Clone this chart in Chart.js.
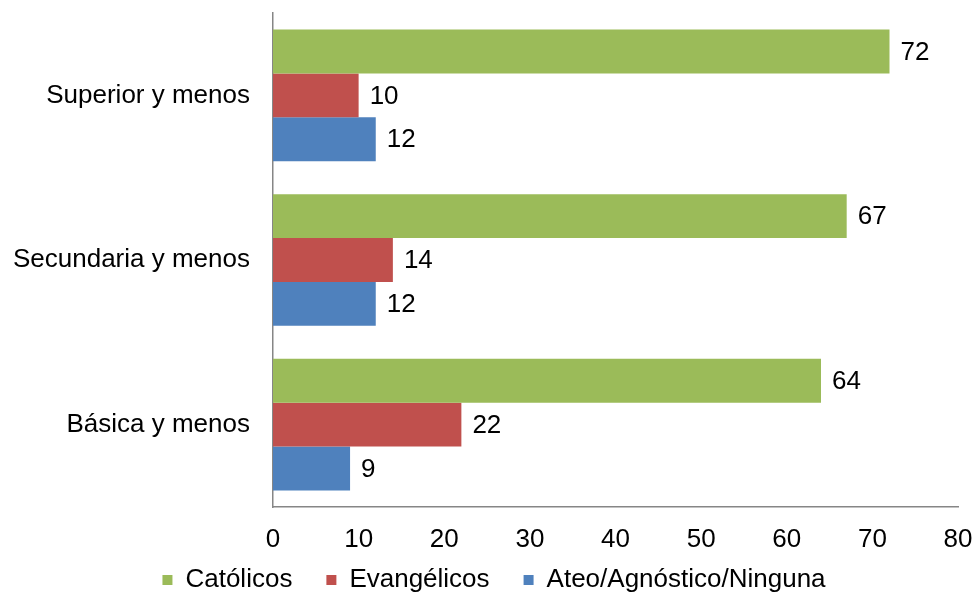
<!DOCTYPE html>
<html>
<head>
<meta charset="utf-8">
<script src="https://cdn.jsdelivr.net/npm/chart.js@4.4.1/dist/chart.umd.min.js"></script>
<style>
  body { margin: 0; background: #fff; }
  canvas { display: block; }
</style>
</head>
<body>
<canvas id="chart" width="976" height="595"></canvas>
<script>
var categories = ['Superior y menos', 'Secundaria y menos', 'Básica y menos'];
var seriesNames = ['Católicos', 'Evangélicos', 'Ateo/Agnóstico/Ninguna'];
var catolicos = [72, 67, 64];
var evangelicos = [10, 14, 22];
var ateos = [12, 12, 9];
var xTicks = [0, 10, 20, 30, 40, 50, 60, 70, 80];

var colors = ['#9BBB59', '#C0504D', '#4F81BD'];
var fontFamily = '"Liberation Sans", Arial, sans-serif';

// value labels at the end of each bar
var valueLabels = {
  id: 'valueLabels',
  afterLayout: function (chart) {
    // let the x tick labels draw below the squeezed axis box
    chart.scales.x.bottom = chart.scales.x.top + 60;
    // nudge the legend a little to the right
    chart.legend.left += 15;
    chart.legend.right += 15;
  },
  afterDatasetsDraw: function (chart) {
    var ctx = chart.ctx;
    ctx.save();
    ctx.font = '26px ' + fontFamily;
    ctx.fillStyle = '#000';
    ctx.textBaseline = 'middle';
    ctx.textAlign = 'left';
    chart.data.datasets.forEach(function (ds, i) {
      chart.getDatasetMeta(i).data.forEach(function (bar, j) {
        ctx.fillText(ds.data[j], bar.x + 11, bar.y + 1);
      });
    });
    ctx.restore();
  }
};

var chart = new Chart(document.getElementById('chart').getContext('2d'), {
  type: 'bar',
  data: {
    labels: categories,
    datasets: [
      { label: seriesNames[0], data: catolicos, backgroundColor: colors[0] },
      { label: seriesNames[1], data: evangelicos, backgroundColor: colors[1] },
      { label: seriesNames[2], data: ateos, backgroundColor: colors[2] }
    ]
  },
  options: {
    indexAxis: 'y',
    responsive: false,
    animation: false,
    layout: { padding: { top: 13, right: 18, left: 0, bottom: -8 } },
    datasets: { bar: { categoryPercentage: 0.8, barPercentage: 1.0 } },
    scales: {
      x: {
        min: 0,
        max: 80,
        afterBuildTicks: function (axis) {
          axis.ticks = xTicks.map(function (v) { return { value: v }; });
        },
        grid: { display: false, drawTicks: false },
        border: { display: true, color: '#868686', width: 1.5 },
        ticks: { color: '#000', padding: 17, font: { family: fontFamily, size: 26 } },
        afterFit: function (axis) {
          axis.height = 26;
          axis.paddingLeft = 0;
          axis.paddingRight = 0;
        }
      },
      y: {
        grid: { display: false, drawTicks: false },
        border: { display: true, color: '#868686', width: 1.5 },
        ticks: { color: '#000', padding: 23, font: { family: fontFamily, size: 26 } },
        afterFit: function (axis) {
          axis.width = 273;
          axis.paddingTop = 0;
          axis.paddingBottom = 0;
        }
      }
    },
    plugins: {
      legend: {
        position: 'bottom',
        labels: {
          color: '#000',
          boxWidth: 10,
          boxHeight: 10,
          padding: 34,
          font: { family: fontFamily, size: 26 }
        }
      },
      tooltip: { enabled: false }
    }
  },
  plugins: [valueLabels]
});
</script>
</body>
</html>
